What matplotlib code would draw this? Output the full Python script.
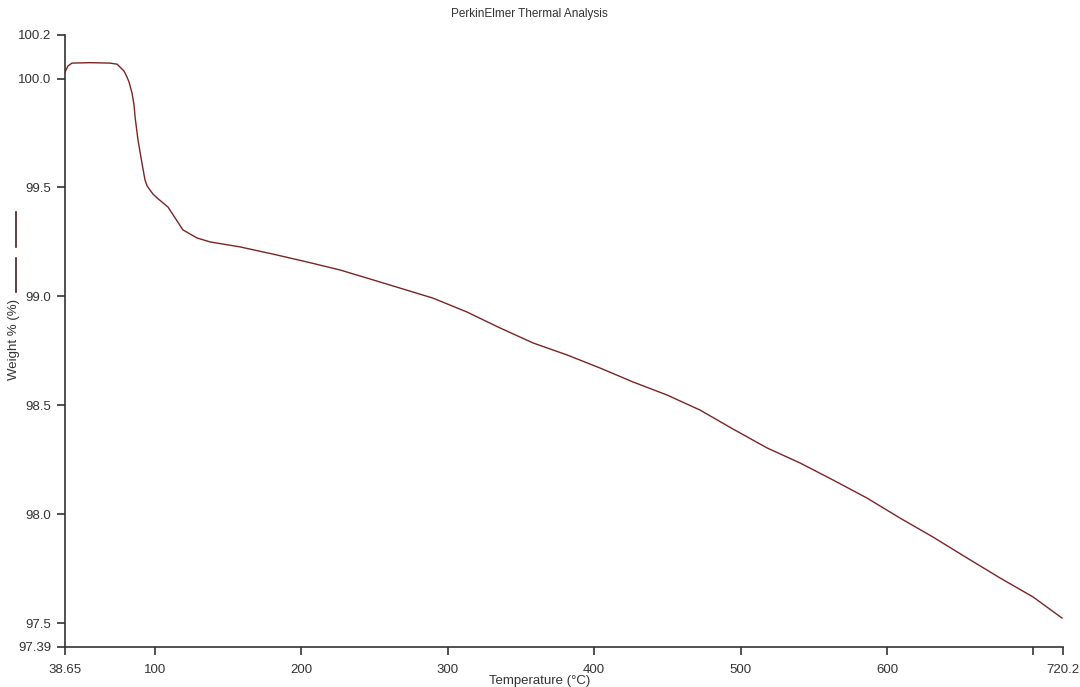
import numpy as np
import matplotlib.pyplot as plt
from matplotlib.lines import Line2D

# TGA curve (temperature in C, weight in %)
temperature = [38.65, 40.7, 43.4, 55.7, 69.4, 74.2, 76.2, 78.9, 81.0, 82.4,
               84.4, 85.8, 86.5, 88.5, 91.2, 93.3, 94.7, 96.7, 98.7, 101.5,
               109.0, 119.2, 128.8, 137.7, 158.2, 180.7, 203.9, 226.5, 244.9,
               267.4, 289.9, 313.2, 335.7, 358.3, 381.5, 404.0, 426.5, 449.8,
               472.3, 494.8, 518.1, 540.6, 563.1, 586.3, 608.9, 631.4, 654.6,
               677.2, 699.7, 719.5]
weight = [100.030, 100.058, 100.071, 100.073, 100.071, 100.066, 100.053,
          100.035, 100.007, 99.984, 99.934, 99.879, 99.824, 99.718, 99.612,
          99.534, 99.507, 99.488, 99.470, 99.452, 99.410, 99.305, 99.268,
          99.250, 99.227, 99.194, 99.158, 99.121, 99.084, 99.038, 98.992,
          98.928, 98.855, 98.786, 98.731, 98.671, 98.607, 98.547, 98.478,
          98.391, 98.304, 98.235, 98.157, 98.074, 97.982, 97.895, 97.799,
          97.707, 97.620, 97.523]

x_ticks = [38.65, 100, 200, 300, 400, 500, 600, 700, 720.2]
x_labels = ['38.65', '100', '200', '300', '400', '500', '600', '', '720.2']
y_ticks = [97.39, 97.5, 98.0, 98.5, 99.0, 99.5, 100.0, 100.2]
y_labels = ['97.39', '97.5', '98.0', '98.5', '99.0', '99.5', '100.0', '100.2']

plt.rcParams['font.family'] = ['Liberation Sans', 'DejaVu Sans']

fig = plt.figure(figsize=(10.8, 6.87), dpi=100)
ax = fig.add_axes([65 / 1080, 1 - 647 / 687, (1063 - 65) / 1080, (647 - 35) / 687])

ax.plot(temperature, weight, color='#7a2424', linewidth=1.0,
        solid_joinstyle='round')

ax.set_xlim(38.65, 720.2)
ax.set_ylim(97.39, 100.2)
ax.set_xticks(x_ticks)
ax.set_xticklabels(x_labels)
ax.set_yticks(y_ticks)
ax.set_yticklabels(y_labels)

for side in ['top', 'right']:
    ax.spines[side].set_visible(False)
for side in ['left', 'bottom']:
    ax.spines[side].set_color('#333333')
    ax.spines[side].set_linewidth(1.2)
ax.tick_params(direction='out', length=6, width=1.2, colors='#333333',
               labelsize=9.5, pad=4)
ax.tick_params(axis='x', pad=6)

fig.text(0.49, 1 - 14 / 687, 'PerkinElmer Thermal Analysis', ha='center',
         va='center', fontsize=8.5, color='#333333')
fig.text(0.5, 1 - 681 / 687, 'Temperature (°C)', ha='center', va='center',
         fontsize=9.5, color='#333333')
fig.text(14 / 1080, 1 - 340 / 687, 'Weight % (%)', ha='center', va='center',
         rotation=90, fontsize=9.5, color='#333333')

# little series swatch next to the y label
fig.add_artist(Line2D([16 / 1080, 16 / 1080], [1 - 212 / 687, 1 - 247 / 687],
                      color='#4a2020', linewidth=1.2))
fig.add_artist(Line2D([16 / 1080, 16 / 1080], [1 - 258 / 687, 1 - 292 / 687],
                      color='#4a2020', linewidth=1.2))

fig.savefig('out.png', dpi=100)
